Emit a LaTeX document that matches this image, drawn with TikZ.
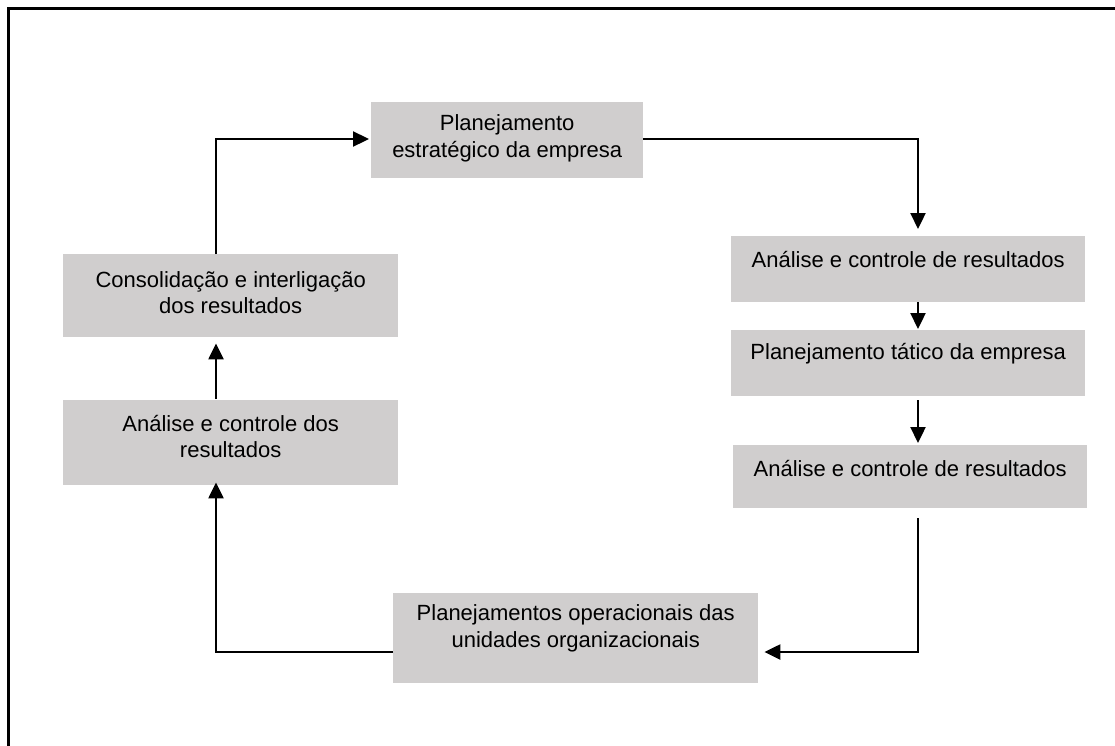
\documentclass[tikz,border=0pt]{standalone}
\usepackage{fontspec}
\setmainfont{Liberation Sans}
\usetikzlibrary{arrows.meta}
\definecolor{boxgray}{HTML}{D0CECE}
\begin{document}
\begin{tikzpicture}[x=1pt,y=-1pt,
  box/.style={fill=boxgray, draw=none, inner sep=0pt, anchor=north west},
  txt/.style={align=center, font=\fontsize{22}{26.5}\selectfont, inner sep=0pt},
  conn/.style={line width=2.3pt, -{Triangle[length=16pt,width=15pt]}},
  frame/.style={line width=3pt, draw=black}
  ]
\useasboundingbox (0,0) rectangle (1115,745);
\draw[frame] (8,8) rectangle (1135,765);
% boxes
\node[box, minimum width=272pt, minimum height=76pt] (strat) at (371,102) {};
\node[box, minimum width=354pt, minimum height=66pt] (R1) at (731,236) {};
\node[box, minimum width=354pt, minimum height=66pt] (R2) at (731,330) {};
\node[box, minimum width=354pt, minimum height=63pt] (R3) at (733,445) {};
\node[box, minimum width=365pt, minimum height=90pt] (B) at (393,593) {};
\node[box, minimum width=335pt, minimum height=83pt] (L1) at (63,254) {};
\node[box, minimum width=335pt, minimum height=85pt] (L2) at (63,400) {};
% texts
\node[txt, yshift=2pt] (stratT) at (strat) {Planejamento\\estratégico da empresa};
\node[txt, yshift=10pt] (R1T) at (R1) {Análise e controle de resultados};
\node[txt, yshift=10pt] (R2T) at (R2) {Planejamento tático da empresa};
\node[txt, yshift=8pt] (R3T) at (R3) {Análise e controle de resultados};
\node[txt, yshift=10pt] (BT) at (B) {Planejamentos operacionais das\\unidades organizacionais};
\node[txt, yshift=3pt] (L1T) at (L1) {Consolidação e interligação\\dos resultados};
\node[txt, yshift=6pt] (L2T) at (L2) {Análise e controle dos\\resultados};
% guide coordinates
\coordinate (xl) at (216,0);
\coordinate (xr) at (918,0);
\coordinate (yt) at (0,139);
\coordinate (yb) at (0,652);
% connectors
\draw[conn, shorten >=2pt] (xl |- L1.north) -- ++(0,-4) |- (strat.west |- yt);
\draw[conn, shorten >=7pt] (strat.east |- yt) -| (xr |- R1.north);
\draw[conn, shorten >=1pt] (xr |- R1.south) -- (xr |- R2.north);
\draw[conn, shorten <=4pt, shorten >=2pt] (xr |- R2.south) -- (xr |- R3.north);
\draw[conn, shorten <=10pt, shorten >=6pt] (xr |- R3.south) |- (B.east |- yb);
\draw[conn, shorten >=-3pt] (B.west |- yb) -| (xl |- L2.south);
\draw[conn, shorten <=1pt, shorten >=6pt] (xl |- L2.north) -- (xl |- L1.south);
\end{tikzpicture}
\end{document}
